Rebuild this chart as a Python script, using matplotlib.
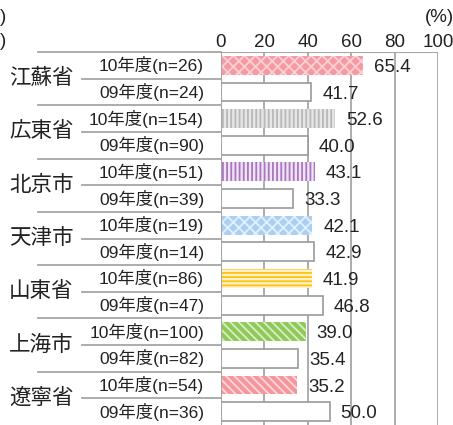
import matplotlib.pyplot as plt
import matplotlib.transforms as mtransforms

plt.rcParams['font.family'] = ['Liberation Sans', 'Noto Sans CJK JP']
plt.rcParams['hatch.linewidth'] = 1.3

regions = ['江蘇省', '広東省', '北京市', '天津市', '山東省', '上海市', '遼寧省']
labels_10 = ['10年度(n=26)', '10年度(n=154)', '10年度(n=51)', '10年度(n=19)',
             '10年度(n=86)', '10年度(n=100)', '10年度(n=54)']
labels_09 = ['09年度(n=24)', '09年度(n=90)', '09年度(n=39)', '09年度(n=14)',
             '09年度(n=47)', '09年度(n=82)', '09年度(n=36)']
values_10 = [65.4, 52.6, 43.1, 42.1, 41.9, 39.0, 35.2]
values_09 = [41.7, 40.0, 33.3, 42.9, 46.8, 35.4, 50.0]

# face colour, hatch colour, hatch pattern for each 10年度 bar
styles_10 = [
    ('#f59aa3', '#fbd0d5', 'xxx'),
    ('#e6e6e6', '#b8b8b8', '||||'),
    ('#efe3f4', '#a977c2', '||||'),
    ('#a9d0f2', '#e3f0fb', 'xxx'),
    ('#fff3cc', '#ffc20e', '----'),
    ('#8fc95a', '#d8eec4', '\\\\\\\\'),
    ('#f7959c', '#fdd9dc', '\\\\\\\\'),
]

GRID = '#a6a6a6'
W, H = 453, 425
fig = plt.figure(figsize=(W / 100, H / 100), dpi=100)
x0, x1, ytop = 221, 438, 52
ax = fig.add_axes([x0 / W, 0, (x1 - x0) / W, (H - ytop) / H])

n = len(regions)
for i in range(n):
    y10 = 2 * i
    y09 = 2 * i + 1
    fc, hc, hp = styles_10[i]
    ax.barh(y10, values_10[i], height=0.71, color=fc, edgecolor=hc,
            hatch=hp, linewidth=0, zorder=3)
    ax.barh(y09, values_09[i], height=0.71, color='white', edgecolor='#999999',
            linewidth=1.2, zorder=3)
    for y, v in ((y10, values_10[i]), (y09, values_09[i])):
        ax.annotate(f'{v:.1f}', (v, y), xytext=(8, -1.5), textcoords='offset points',
                    ha='left', va='center', fontsize=13.5, color='#222222', zorder=4)

ax.set_xlim(0, 100)
ax.set_ylim(2 * n - 0.5, -0.5)
ax.set_xticks([0, 20, 40, 60, 80, 100])
ax.xaxis.tick_top()
ax.tick_params(axis='x', length=0, pad=0.5, labelsize=13.5, labelcolor='#222222')
ax.set_yticks([])
for s in ax.spines.values():
    s.set_visible(False)
for xv in [20, 40, 60, 80, 100]:
    ax.axvline(xv, color=GRID, lw=1.3, zorder=1)
ax.axvline(0, color=GRID, lw=1.5, zorder=4)
ax.axhline(-0.5, color=GRID, lw=1.5, zorder=1)

# label area on the left
trans = mtransforms.blended_transform_factory(ax.transAxes, ax.transData)
gx = (38 - x0) / (x1 - x0)
sx = (82 - x0) / (x1 - x0)
for i in range(n):
    top = 2 * i - 0.5
    ax.plot([gx, 0], [top, top], transform=trans, color=GRID, lw=1.3, clip_on=False)
    ax.plot([sx, 0], [top + 1, top + 1], transform=trans, color=GRID, lw=1.3, clip_on=False)
    ax.text((9 - x0) / (x1 - x0), 2 * i + 0.5, regions[i], transform=trans,
            ha='left', va='center', fontsize=15.5, color='#222222')
    ax.text((204 - x0) / (x1 - x0), 2 * i, labels_10[i], transform=trans,
            ha='right', va='center', fontsize=12.5, color='#222222')
    ax.text((204 - x0) / (x1 - x0), 2 * i + 1, labels_09[i], transform=trans,
            ha='right', va='center', fontsize=12.5, color='#222222')

fig.text(439 / W, 1 - 17 / H, '(%)', ha='center', va='center', fontsize=13.5, color='#222222')
fig.text(6 / W, 1 - 17 / H, ')', ha='right', va='center', fontsize=13.5, color='#222222')
fig.text(6 / W, 1 - 42 / H, ')', ha='right', va='center', fontsize=13.5, color='#222222')

fig.savefig('out.png', dpi=100)
